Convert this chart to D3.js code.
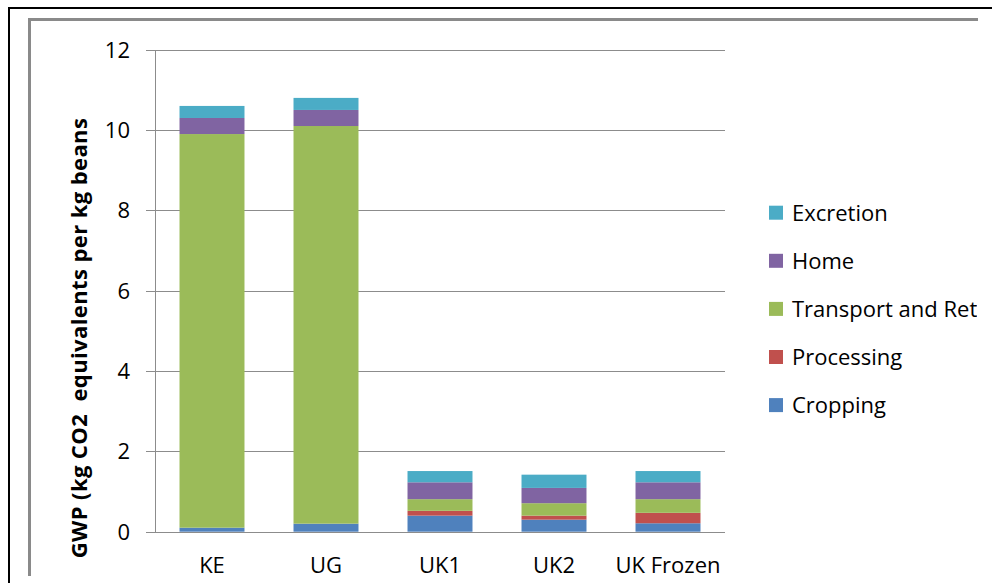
<!DOCTYPE html>
<html>
<head>
<meta charset="utf-8">
<script src="https://cdn.jsdelivr.net/npm/d3@7"></script>
<style>
  html, body { margin: 0; padding: 0; background: #fff; }
  svg { display: block; }
  text { font-family: "Open Sans", sans-serif; fill: #000; }
</style>
</head>
<body>
<svg id="chart" width="992" height="583"></svg>
<script>
// ---- data ----
const categories = ["KE", "UG", "UK1", "UK2", "UK Frozen"];
const seriesNames = ["Cropping", "Processing", "Transport and Retail", "Home", "Excretion"];
const cropping  = [0.10, 0.20, 0.40, 0.30, 0.21];
const processing = [0.00, 0.00, 0.12, 0.10, 0.26];
const transport = [9.80, 9.90, 0.29, 0.31, 0.34];
const home      = [0.40, 0.40, 0.42, 0.38, 0.42];
const excretion = [0.30, 0.30, 0.28, 0.33, 0.28];
const yTicks = [0, 2, 4, 6, 8, 10, 12];
const colors = ["#4F81BD", "#C0504D", "#9BBB59", "#8064A2", "#4BACC6"];
const yTitle = "GWP (kg CO2  equivalents per kg beans";

const seriesValues = [cropping, processing, transport, home, excretion];
const rows = categories.map((c, i) => {
  const r = { cat: c };
  seriesNames.forEach((s, j) => r[s] = seriesValues[j][i]);
  return r;
});

const svg = d3.select("#chart");

// frames
svg.append("line").attr("x1", 8).attr("y1", 8).attr("x2", 992).attr("y2", 8)
  .attr("stroke", "#000").attr("stroke-width", 2);
svg.append("line").attr("x1", 9).attr("y1", 7).attr("x2", 9).attr("y2", 583)
  .attr("stroke", "#000").attr("stroke-width", 2);
svg.append("line").attr("x1", 28.5).attr("y1", 19.5).attr("x2", 978).attr("y2", 19.5)
  .attr("stroke", "#8a8a8a").attr("stroke-width", 3);
svg.append("line").attr("x1", 29.5).attr("y1", 18).attr("x2", 29.5).attr("y2", 576)
  .attr("stroke", "#8a8a8a").attr("stroke-width", 3);

// scales
const x = d3.scaleBand().domain(categories).range([155, 725])
  .paddingInner(0.43).paddingOuter(0.215);
const y = d3.scaleLinear().domain([0, 12]).range([531.7, 49.7]);

// grid lines
svg.append("g").selectAll("line").data(yTicks).join("line")
  .attr("x1", 146).attr("x2", 725)
  .attr("y1", d => Math.round(y(d)) + 0.5).attr("y2", d => Math.round(y(d)) + 0.5)
  .attr("stroke", "#8c8c8c").attr("stroke-width", 1);

// y axis line
svg.append("line").attr("x1", 155.5).attr("x2", 155.5)
  .attr("y1", Math.round(y(12)) + 0.5).attr("y2", Math.round(y(0)) + 0.5)
  .attr("stroke", "#8c8c8c").attr("stroke-width", 1);

// tick labels
svg.append("g").selectAll("text").data(yTicks).join("text")
  .attr("x", 130).attr("y", d => y(d))
  .attr("dy", "0.36em")
  .attr("text-anchor", "end")
  .style("font-size", "22px")
  .text(d => d);

// stacked bars
const stack = d3.stack().keys(seriesNames);
const stacked = stack(rows);
svg.append("g").selectAll("g").data(stacked).join("g")
  .attr("fill", (d, i) => colors[i])
  .selectAll("rect").data(d => d).join("rect")
  .attr("x", d => x(d.data.cat))
  .attr("width", x.bandwidth())
  .attr("y", d => y(d[1]))
  .attr("height", d => Math.max(0, y(d[0]) - y(d[1])));

// baseline over bars
svg.append("line").attr("x1", 146).attr("x2", 725)
  .attr("y1", Math.round(y(0)) + 0.5).attr("y2", Math.round(y(0)) + 0.5)
  .attr("stroke", "#8c8c8c").attr("stroke-width", 1);

// category labels
svg.append("g").selectAll("text").data(categories).join("text")
  .attr("x", d => x(d) + x.bandwidth() / 2)
  .attr("y", 573)
  .attr("text-anchor", "middle")
  .style("font-size", "22px")
  .text(d => d);

// y title
svg.append("text")
  .attr("transform", "translate(87,338) rotate(-90)")
  .attr("text-anchor", "middle")
  .style("font-size", "22px")
  .style("font-weight", "bold")
  .style("letter-spacing", "0.4px")
  .style("white-space", "pre")
  .attr("xml:space", "preserve")
  .text(yTitle);

// legend (clipped at the chart area's right edge)
svg.append("defs").append("clipPath").attr("id", "legclip")
  .append("rect").attr("x", 0).attr("y", 0).attr("width", 977).attr("height", 583);
const legendOrder = seriesNames.map((s, i) => ({ name: s, color: colors[i] })).reverse();
const leg = svg.append("g").attr("clip-path", "url(#legclip)");
const items = leg.selectAll("g").data(legendOrder).join("g")
  .attr("transform", (d, i) => `translate(769, ${220.7 + i * 48.1})`);
items.append("rect").attr("x", 0).attr("y", -15).attr("width", 14).attr("height", 14)
  .attr("fill", d => d.color);
items.append("text").attr("x", 23).attr("y", 0)
  .style("font-size", "22px")
  .text(d => d.name);
</script>
</body>
</html>
